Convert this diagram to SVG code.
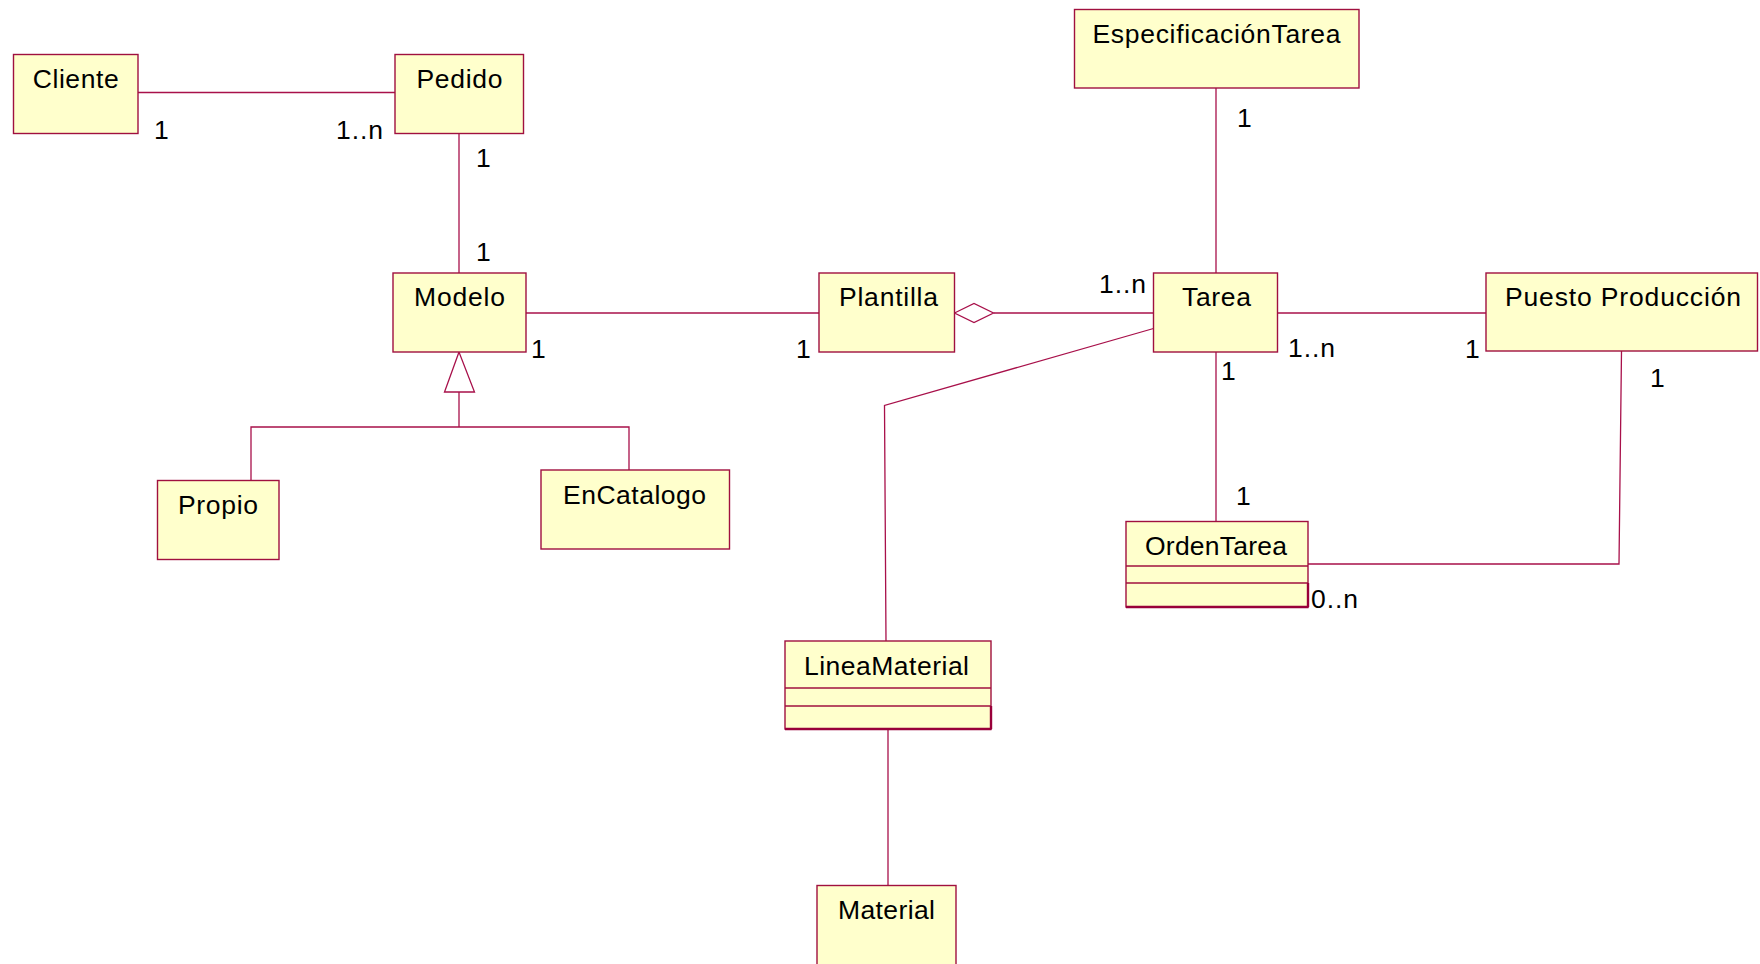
<svg xmlns="http://www.w3.org/2000/svg" width="1760" height="964" viewBox="0 0 1760 964">
<style>
.box{fill:#FFFFCC;stroke:#A0103F;stroke-width:1.4}
.sep{stroke:#A0103F;stroke-width:1.4}
.thick{stroke:#99003A;stroke-width:2.4}
.ln{fill:none;stroke:#A8104A;stroke-width:1.3}
.nm{font-family:"Liberation Sans",Arial,sans-serif;font-size:26.5px;fill:#000;text-anchor:middle}
.ml{font-family:"Liberation Sans",Arial,sans-serif;font-size:26.5px;fill:#000}
</style>
<rect x="0" y="0" width="1760" height="964" fill="#FFFFFF"/>
<g id="connectors">
<line class="ln" x1="138" y1="92.5" x2="395" y2="92.5"/>
<line class="ln" x1="459" y1="133.5" x2="459" y2="273"/>
<line class="ln" x1="526" y1="313" x2="819" y2="313"/>
<polygon class="ln" points="954.5,313 974,303.5 993.5,313 974,322.5"/>
<line class="ln" x1="993.5" y1="313" x2="1153.5" y2="313"/>
<line class="ln" x1="1216" y1="88" x2="1216" y2="273"/>
<line class="ln" x1="1277.5" y1="313" x2="1486" y2="313"/>
<line class="ln" x1="1216" y1="352" x2="1216" y2="521.5"/>
<polyline class="ln" points="1621.5,351 1619,564 1308,564"/>
<polyline class="ln" points="1153.5,328.5 884.5,405.5 886,641"/>
<line class="ln" x1="888" y1="729" x2="888" y2="885.5"/>
<polygon class="ln" points="459,352 444.5,392 474.5,392"/>
<line class="ln" x1="459" y1="392" x2="459" y2="427"/>
<polyline class="ln" points="251,480.5 251,427 629,427 629,470"/>
</g>
<g id="labels">
<text class="ml" x="154" y="139">1</text>
<text class="ml" x="336" y="139" textLength="47" lengthAdjust="spacing">1..n</text>
<text class="ml" x="476" y="167">1</text>
<text class="ml" x="476" y="261">1</text>
<text class="ml" x="531" y="358">1</text>
<text class="ml" x="796" y="358">1</text>
<text class="ml" x="1099" y="293" textLength="47" lengthAdjust="spacing">1..n</text>
<text class="ml" x="1237" y="127">1</text>
<text class="ml" x="1288" y="357" textLength="47" lengthAdjust="spacing">1..n</text>
<text class="ml" x="1465" y="358">1</text>
<text class="ml" x="1221" y="380">1</text>
<text class="ml" x="1236" y="505">1</text>
<text class="ml" x="1650" y="387">1</text>
<text class="ml" x="1311" y="608" textLength="47" lengthAdjust="spacing">0..n</text>
</g>
<g id="Cliente"><rect class="box" x="13.5" y="54.5" width="124.5" height="79"/><text class="nm" x="75.7" y="88" textLength="86" lengthAdjust="spacing">Cliente</text></g>
<g id="Pedido"><rect class="box" x="395" y="54.5" width="128.5" height="79"/><text class="nm" x="459.4" y="88" textLength="86" lengthAdjust="spacing">Pedido</text></g>
<g id="EspecificacionTarea"><rect class="box" x="1074.5" y="9.5" width="284.5" height="78.5"/><text class="nm" x="1216.5" y="43" textLength="248" lengthAdjust="spacing">EspecificaciónTarea</text></g>
<g id="Modelo"><rect class="box" x="393" y="273" width="133" height="79"/><text class="nm" x="459.5" y="306" textLength="91" lengthAdjust="spacing">Modelo</text></g>
<g id="Plantilla"><rect class="box" x="819" y="273" width="135.5" height="79"/><text class="nm" x="888.5" y="306" textLength="99" lengthAdjust="spacing">Plantilla</text></g>
<g id="Tarea"><rect class="box" x="1153.5" y="273" width="124" height="79"/><text class="nm" x="1216.5" y="306" textLength="69" lengthAdjust="spacing">Tarea</text></g>
<g id="PuestoProduccion"><rect class="box" x="1486" y="273" width="271.5" height="78"/><text class="nm" x="1623" y="306" textLength="236" lengthAdjust="spacing">Puesto Producción</text></g>
<g id="Propio"><rect class="box" x="157.5" y="480.5" width="121.5" height="79"/><text class="nm" x="218" y="514" textLength="80" lengthAdjust="spacing">Propio</text></g>
<g id="EnCatalogo"><rect class="box" x="541" y="470" width="188.5" height="79"/><text class="nm" x="634.5" y="504" textLength="143" lengthAdjust="spacing">EnCatalogo</text></g>
<g id="OrdenTarea"><rect class="box" x="1126" y="521.5" width="182" height="85.5"/><line class="sep" x1="1126" y1="566" x2="1308" y2="566"/><line class="sep" x1="1126" y1="583" x2="1308" y2="583"/><line class="thick" x1="1126" y1="607" x2="1308.5" y2="607"/><line class="thick" x1="1308" y1="583" x2="1308" y2="607"/><text class="nm" x="1216" y="555" textLength="142" lengthAdjust="spacing">OrdenTarea</text></g>
<g id="LineaMaterial"><rect class="box" x="785" y="641" width="206" height="88"/><line class="sep" x1="785" y1="688" x2="991" y2="688"/><line class="sep" x1="785" y1="706" x2="991" y2="706"/><line class="thick" x1="785" y1="729" x2="991.5" y2="729"/><line class="thick" x1="991" y1="706" x2="991" y2="729"/><text class="nm" x="886.5" y="675" textLength="165" lengthAdjust="spacing">LineaMaterial</text></g>
<g id="Material"><rect class="box" x="817" y="885.5" width="139" height="95"/><text class="nm" x="886.5" y="919" textLength="97" lengthAdjust="spacing">Material</text></g>
</svg>
